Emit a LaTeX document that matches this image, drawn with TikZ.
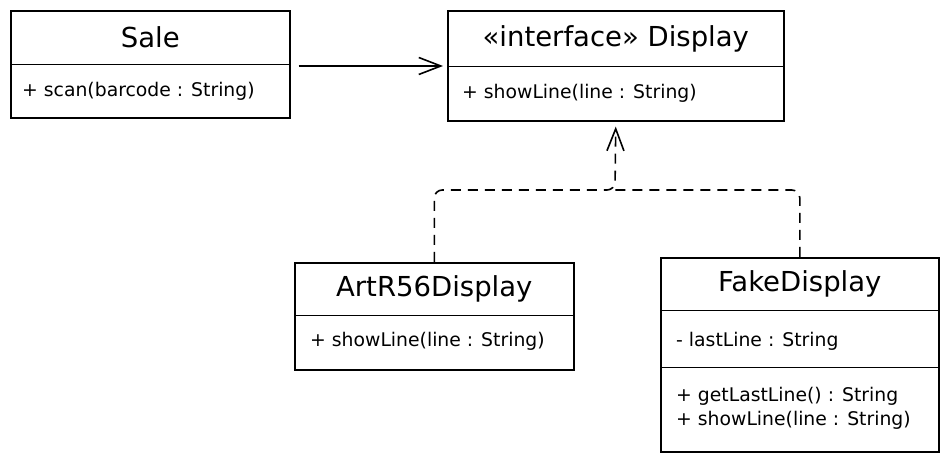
\documentclass[tikz,border=0pt]{standalone}
\usepackage{fontspec}
\setmainfont{DejaVu Sans}
\usetikzlibrary{positioning,arrows.meta}

\tikzset{
  classbox/.style={draw,line width=1.6pt,rectangle,inner sep=0pt,anchor=north west},
  title/.style={font=\fontsize{27.5}{30}\selectfont,inner sep=0pt},
  member/.style={font=\fontsize{18.8}{22}\selectfont,anchor=west,inner sep=0pt},
  divider/.style={line width=0.8pt},
  assoc/.style={line width=1.6pt,-{Straight Barb[length=22pt,width=17pt]},
    shorten <=8pt,shorten >=4pt},
  realize/.style={line width=1.6pt,dash pattern=on 10pt off 7pt,rounded corners=8pt}
}

\begin{document}
\begin{tikzpicture}[x=1pt,y=-1pt]
  \useasboundingbox (0,0) rectangle (950,462);

  % classes
  \node[classbox,minimum width=279pt,minimum height=107pt] (sale) at (10,10) {};
  \node[title,yshift=-27pt] (saleT) at (sale.north) {Sale};
  \draw[divider] ([yshift=-54pt]sale.north west) -- ([yshift=-54pt]sale.north east);
  \node[member,xshift=12pt,yshift=-81pt] (saleM) at (sale.north west) {+ scan(barcode : String)};

  \node[classbox,minimum width=336pt,minimum height=110pt] (display) at (447,10) {};
  \node[title,yshift=-29pt] (displayT) at (display.north) {«interface» Display};
  \draw[divider] ([yshift=-56pt]display.north west) -- ([yshift=-56pt]display.north east);
  \node[member,xshift=15pt,yshift=-83pt] (displayM) at (display.north west) {+ showLine(line : String)};

  \node[classbox,minimum width=279pt,minimum height=107pt] (artr) at (294,262) {};
  \node[title,yshift=-27pt] (artrT) at (artr.north) {ArtR56Display};
  \draw[divider] ([yshift=-53pt]artr.north west) -- ([yshift=-53pt]artr.north east);
  \node[member,xshift=16pt,yshift=-79pt] (artrM) at (artr.north west) {+ showLine(line : String)};

  \node[classbox,minimum width=278pt,minimum height=194pt] (fake) at (660,257) {};
  \node[title,yshift=-27pt] (fakeT) at (fake.north) {FakeDisplay};
  \draw[divider] ([yshift=-53pt]fake.north west) -- ([yshift=-53pt]fake.north east);
  \node[member,xshift=16pt,yshift=-84pt] (fakeA) at (fake.north west) {- lastLine : String};
  \draw[divider] ([yshift=-110pt]fake.north west) -- ([yshift=-110pt]fake.north east);
  \node[member,xshift=16pt,yshift=-139pt] (fakeM1) at (fake.north west) {+ getLastLine() : String};
  \node[member,xshift=16pt,yshift=-163pt] (fakeM2) at (fake.north west) {+ showLine(line : String)};

  % relations
  \draw[assoc] (sale.east |- 0,66) -- (display.west |- 0,66);
  \coordinate (join) at (615,190);
  \draw[realize,-{Straight Barb[length=22pt,width=17pt]},shorten >=5pt]
    (artr.north) |- (join) -- (display.south);
  \draw[realize] (fake.north) |- (join);
\end{tikzpicture}
\end{document}
